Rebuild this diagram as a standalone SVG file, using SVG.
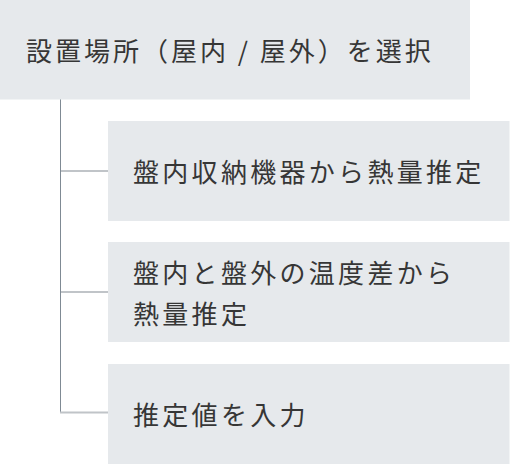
<svg xmlns="http://www.w3.org/2000/svg" width="510" height="464" viewBox="0 0 510 464">
<style>
.box{fill:#e6e9ec}
.t{font-family:"Noto Sans CJK JP","Noto Sans CJK SC",sans-serif;font-size:26px;letter-spacing:3.3px;fill:#363636}
.r{letter-spacing:3px}
.v{stroke:#7f8a94;stroke-width:1;fill:none}
.h{stroke:#c0c4c8;stroke-width:2;fill:none}
</style>
<rect width="510" height="464" fill="#ffffff"/>
<g id="connectors">
<line class="v" x1="60.5" y1="99" x2="60.5" y2="413"/>
<line class="h" x1="61" y1="171" x2="108" y2="171"/>
<line class="h" x1="61" y1="292" x2="108" y2="292"/>
<line class="h" x1="60" y1="412.5" x2="108" y2="412.5"/>
</g>
<g id="node-root">
<rect class="box" x="0" y="0" width="470" height="99.5"/>
<text class="t r" x="26" y="60.5">設置場所（屋内 / 屋外）を選択</text>
</g>
<g id="node-1">
<rect class="box" x="108" y="121" width="401.5" height="100"/>
<text class="t" x="133" y="182">盤内収納機器から熱量推定</text>
</g>
<g id="node-2">
<rect class="box" x="108" y="242" width="401.5" height="100"/>
<text class="t" x="133" y="282.5">盤内と盤外の温度差から</text>
<text class="t" x="133" y="323.5">熱量推定</text>
</g>
<g id="node-3">
<rect class="box" x="108" y="364" width="401.5" height="100"/>
<text class="t" x="133" y="424.5">推定値を入力</text>
</g>
</svg>
